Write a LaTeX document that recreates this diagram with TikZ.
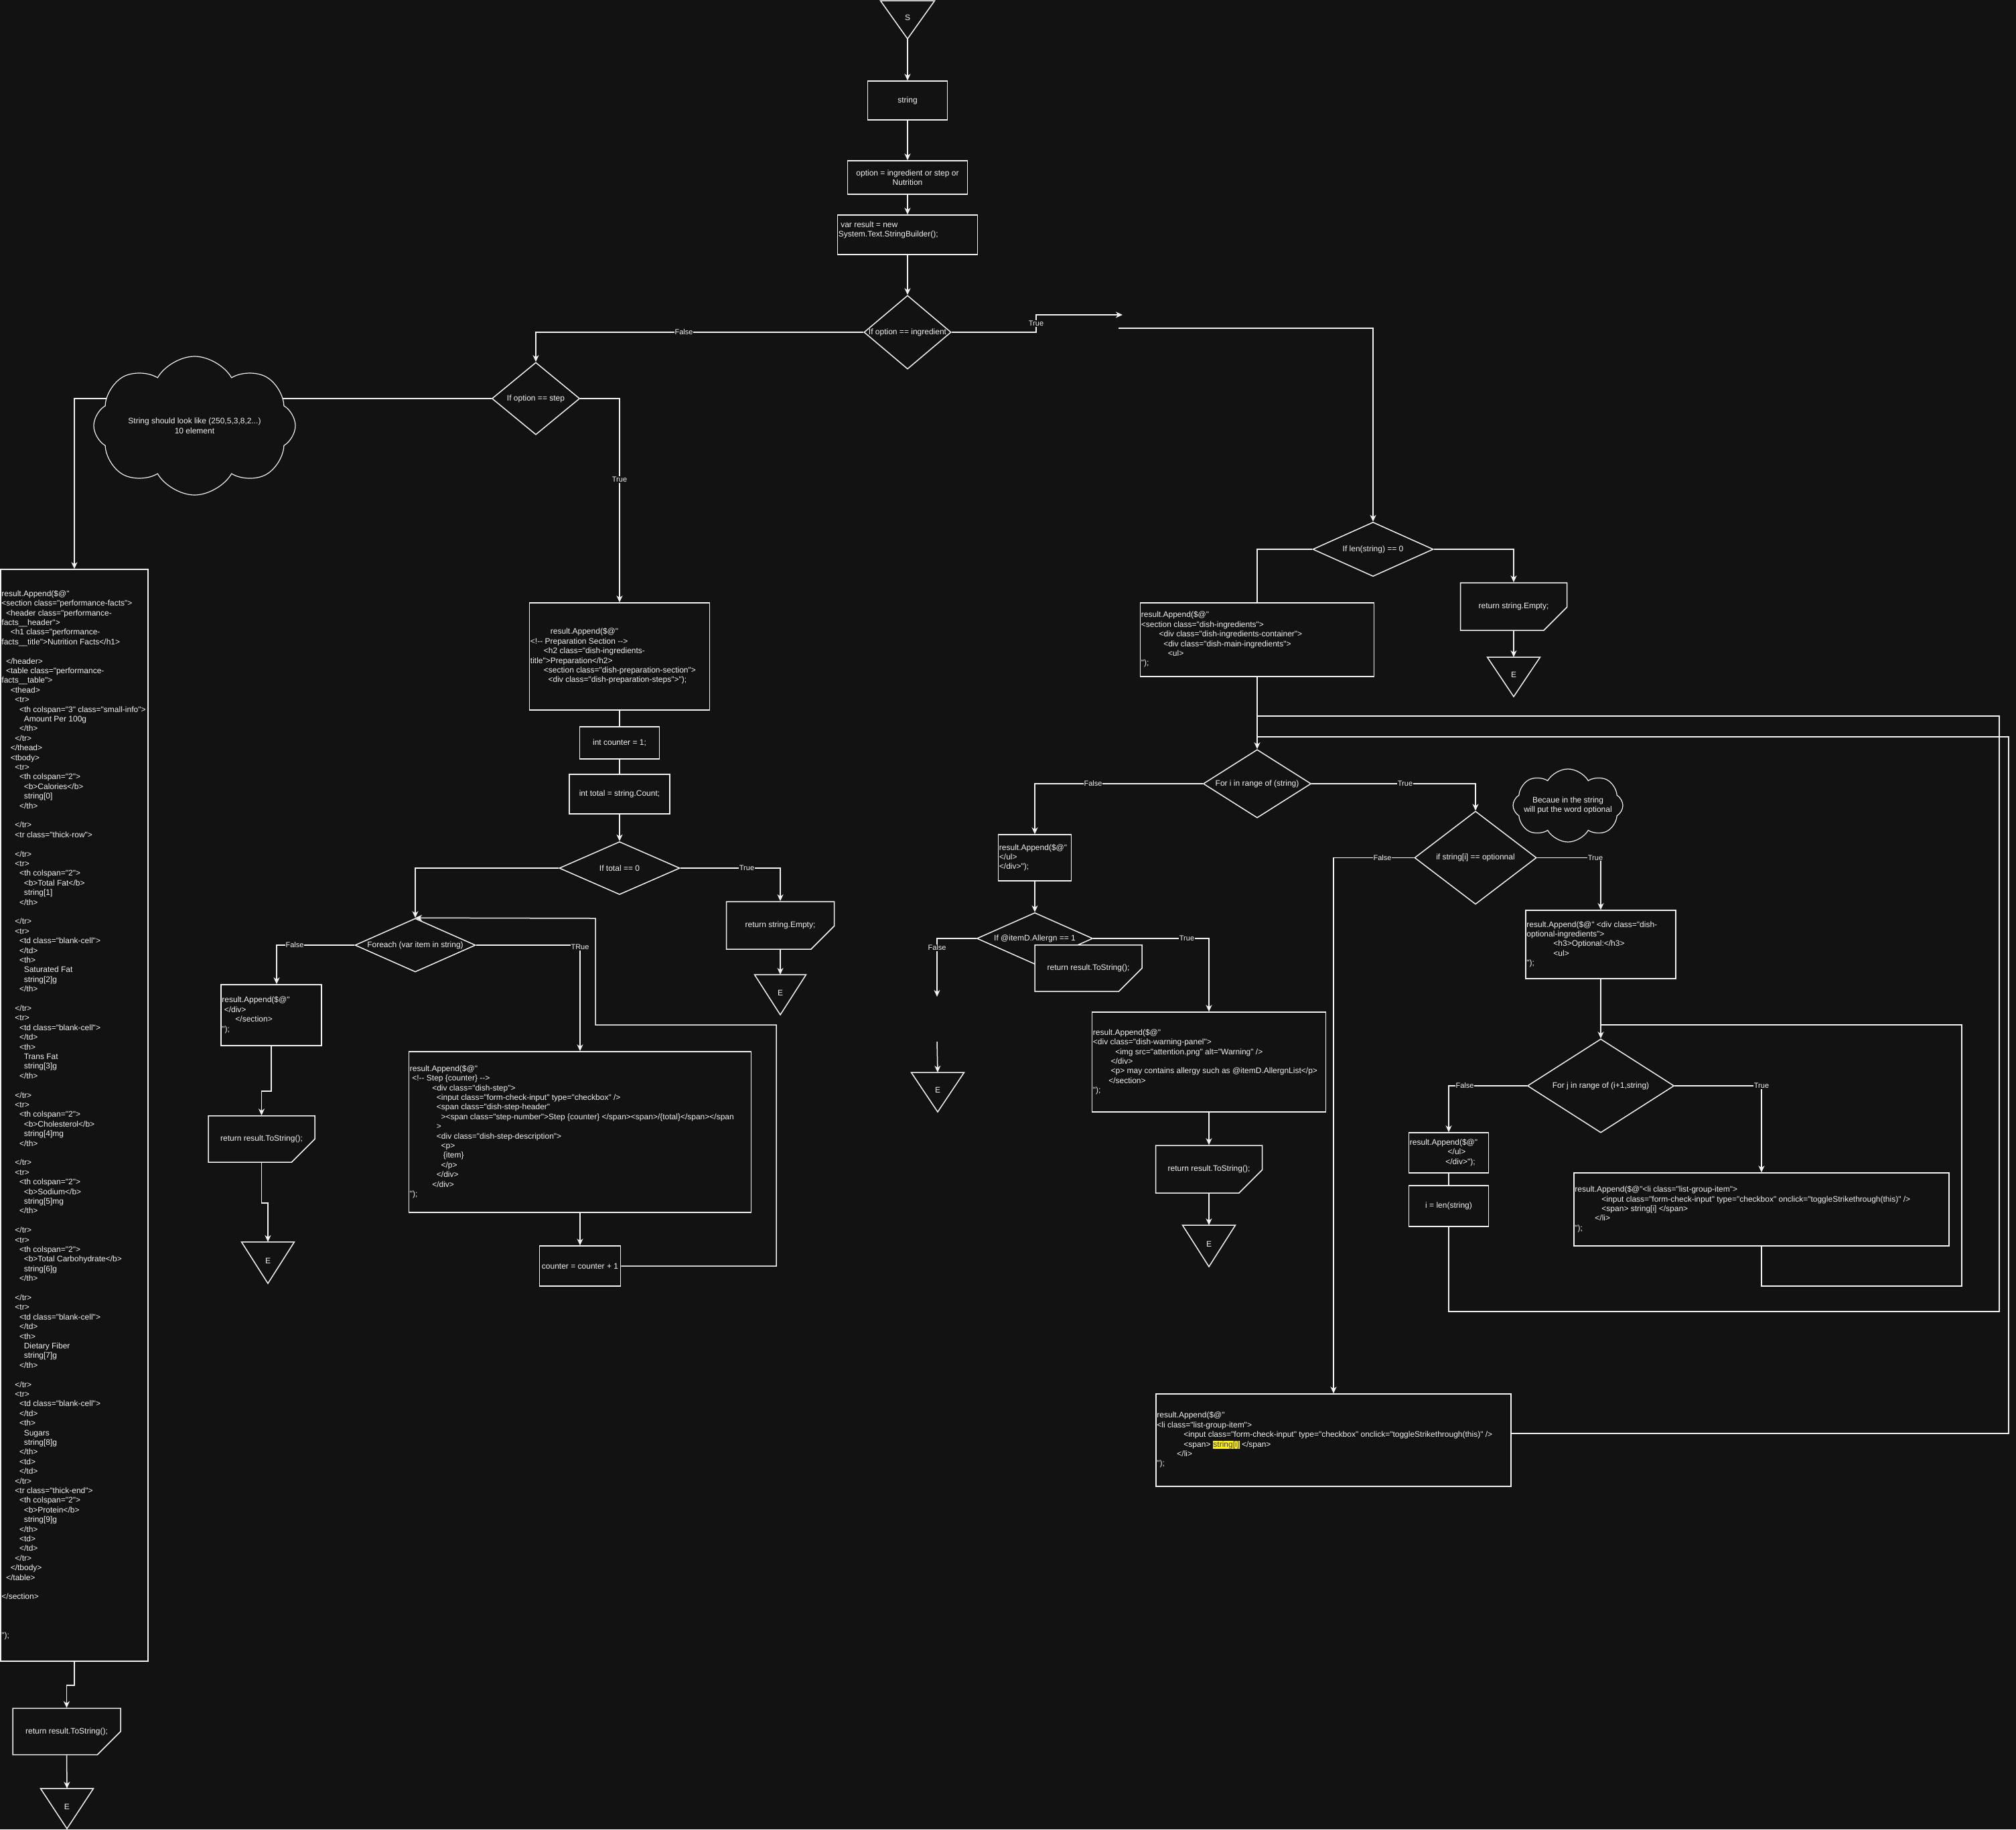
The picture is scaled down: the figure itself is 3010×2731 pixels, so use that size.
\documentclass[tikz,border=0pt]{standalone}
\usepackage{fontspec}
\setmainfont{Liberation Sans}[Ligatures=TeXOff]
\usetikzlibrary{shapes.geometric,shapes.misc,shapes.symbols,arrows.meta}
\definecolor{bg}{HTML}{121212}
\definecolor{fg}{HTML}{F2F2F2}
\newcommand\ind[1]{\hspace*{#1\fontdimen2\font}}
\newcommand\hlt[1]{{\setlength\fboxsep{0.6pt}\colorbox{yellow}{\textcolor{black!75}{#1}}}}
\newcommand\codeblk[1]{\begin{tabular}{@{}l@{}}#1\end{tabular}}
\tikzset{
  ln/.style={draw=fg, line width=1.5pt},
  arr/.style={ln, -{Stealth[length=10pt,width=9pt,inset=3pt]}},
  txt/.style={text=fg, font=\fontsize{12}{14.4}\selectfont},
  code/.style={txt, anchor=west, inner sep=2pt},
  cbox/.style={ln, rectangle, fill=bg, inner sep=0pt, txt, align=center},
  dia/.style={ln, diamond, fill=bg, inner sep=0pt},
  dtxt/.style={txt, align=center, inner sep=0pt},
  card/.style={ln, chamfered rectangle, chamfered rectangle corners=south east, chamfered rectangle xsep=29pt, chamfered rectangle ysep=29pt, fill=bg, inner sep=0pt, txt},
  cloudy/.style={ln, line width=1.2pt, cloud, cloud puffs=8, cloud puff arc=120, cloud ignores aspect, fill=bg, inner sep=0pt},
  lbl/.style={fill=bg, text=fg, font=\fontsize{11}{13}\selectfont, inner sep=1pt},
}
\newcommand\mytri[6]{%
  \draw[ln, fill=bg] (#2-#4/2,#3) -- (#2+#4/2,#3) -- (#2,#3+#5) -- cycle;
  \coordinate (#1-t) at (#2,#3);
  \coordinate (#1-a) at (#2,#3+#5);
  \node[txt] (#1) at (#2,#3+0.45*#5) {#6};
}
\begin{document}
\begin{tikzpicture}[x=1pt,y=-1pt]
\fill[bg] (0,0) rectangle (3010,2731);
\useasboundingbox (0,0) rectangle (3010,2731);

% ---------- top column ----------
\mytri{s}{1355}{1}{81}{57}{S}
\node[cbox, minimum width=119pt, minimum height=58pt] (str) at (1355,150) {string};
\node[cbox, minimum width=179pt, minimum height=50pt] (opt) at (1355,265) {option = ingredient or step or\\Nutrition};
\node[cbox, minimum width=209pt, minimum height=59pt, label={[code, yshift=7pt]west:{\codeblk{\ind{1}var result = new\\System.Text.StringBuilder();}}}] (var) at (1355,350.5) {};
\node[dia, minimum width=130pt, minimum height=110pt, label={[dtxt]center:{If option == ingredient}}] (d1) at (1355,496) {};
\node[dia, minimum width=131pt, minimum height=108pt, label={[dtxt]center:{If option == step}}] (d2) at (800,595) {};

% ---------- nutrition column ----------
\node[cbox, minimum width=220pt, minimum height=1630pt, label={[code]west:{\codeblk{%
result.Append(\$@"\\
<section class="performance-facts">\\
\ind{2}<header class="performance-\\
facts\_\_header">\\
\ind{4}<h1 class="performance-\\
facts\_\_title">Nutrition Facts</h1>\\
\\
\ind{2}</header>\\
\ind{2}<table class="performance-\\
facts\_\_table">\\
\ind{4}<thead>\\
\ind{6}<tr>\\
\ind{8}<th colspan="3" class="small-info">\\
\ind{10}Amount Per 100g\\
\ind{8}</th>\\
\ind{6}</tr>\\
\ind{4}</thead>\\
\ind{4}<tbody>\\
\ind{6}<tr>\\
\ind{8}<th colspan="2">\\
\ind{10}<b>Calories</b>\\
\ind{10}string[0]\\
\ind{8}</th>\\
\\
\ind{6}</tr>\\
\ind{6}<tr class="thick-row">\\
\\
\ind{6}</tr>\\
\ind{6}<tr>\\
\ind{8}<th colspan="2">\\
\ind{10}<b>Total Fat</b>\\
\ind{10}string[1]\\
\ind{8}</th>\\
\\
\ind{6}</tr>\\
\ind{6}<tr>\\
\ind{8}<td class="blank-cell">\\
\ind{8}</td>\\
\ind{8}<th>\\
\ind{10}Saturated Fat\\
\ind{10}string[2]g\\
\ind{8}</th>\\
\\
\ind{6}</tr>\\
\ind{6}<tr>\\
\ind{8}<td class="blank-cell">\\
\ind{8}</td>\\
\ind{8}<th>\\
\ind{10}Trans Fat\\
\ind{10}string[3]g\\
\ind{8}</th>\\
\\
\ind{6}</tr>\\
\ind{6}<tr>\\
\ind{8}<th colspan="2">\\
\ind{10}<b>Cholesterol</b>\\
\ind{10}string[4]mg\\
\ind{8}</th>\\
\\
\ind{6}</tr>\\
\ind{6}<tr>\\
\ind{8}<th colspan="2">\\
\ind{10}<b>Sodium</b>\\
\ind{10}string[5]mg\\
\ind{8}</th>\\
\\
\ind{6}</tr>\\
\ind{6}<tr>\\
\ind{8}<th colspan="2">\\
\ind{10}<b>Total Carbohydrate</b>\\
\ind{10}string[6]g\\
\ind{8}</th>\\
\\
\ind{6}</tr>\\
\ind{6}<tr>\\
\ind{8}<td class="blank-cell">\\
\ind{8}</td>\\
\ind{8}<th>\\
\ind{10}Dietary Fiber\\
\ind{10}string[7]g\\
\ind{8}</th>\\
\\
\ind{6}</tr>\\
\ind{6}<tr>\\
\ind{8}<td class="blank-cell">\\
\ind{8}</td>\\
\ind{8}<th>\\
\ind{10}Sugars\\
\ind{10}string[8]g\\
\ind{8}</th>\\
\ind{8}<td>\\
\ind{8}</td>\\
\ind{6}</tr>\\
\ind{6}<tr class="thick-end">\\
\ind{8}<th colspan="2">\\
\ind{10}<b>Protein</b>\\
\ind{10}string[9]g\\
\ind{8}</th>\\
\ind{8}<td>\\
\ind{8}</td>\\
\ind{6}</tr>\\
\ind{4}</tbody>\\
\ind{2}</table>\\
\\
</section>\\
\\
\\
\\
");}}}] (nut) at (111,1665) {};
\node[card, minimum width=161pt, minimum height=68pt] (r1) at (99.5,2585) {return result.ToString();};
\mytri{e1}{100}{2670}{79}{60}{E}

% ---------- preparation column ----------
\node[cbox, minimum width=269pt, minimum height=160pt, label={[code]west:{\codeblk{%
\ind{9}result.Append(\$@"\\
<!-- Preparation Section -->\\
\ind{6}<h2 class="dish-ingredients-\\
title">Preparation</h2>\\
\ind{6}<section class="dish-preparation-section">\\
\ind{8}<div class="dish-preparation-steps">");}}}] (prep) at (925,980) {};
\node[cbox, minimum width=119pt, minimum height=48pt] (cnt1) at (925,1109) {int counter = 1;};
\node[cbox, minimum width=150pt, minimum height=59pt] (tot) at (925,1185.5) {int total = string.Count;};
\node[dia, minimum width=180pt, minimum height=79pt, label={[dtxt]center:{If total == 0}}] (d3) at (925,1296) {};
\node[card, minimum width=161pt, minimum height=71pt] (r2) at (1165,1381.5) {return string.Empty;};
\mytri{e2}{1165}{1455}{77}{60}{E}
\node[dia, minimum width=180pt, minimum height=80pt, label={[dtxt]center:{Foreach (var item in string)}}] (d4) at (620,1411) {};
\node[cbox, minimum width=150pt, minimum height=91pt, label={[code]west:{\codeblk{%
result.Append(\$@"\\
\ind{1}</div>\\
\ind{6}</section>\\
");}}}] (app1) at (405,1515.5) {};
\node[card, minimum width=159pt, minimum height=69pt] (r3) at (390.5,1700.5) {return result.ToString();};
\mytri{e3}{400}{1854}{79}{62}{E}
\node[cbox, minimum width=511pt, minimum height=240pt, label={[code]west:{\codeblk{%
result.Append(\$@"\\
\ind{1}<!-- Step \{counter\} -->\\
\ind{10}<div class="dish-step">\\
\ind{12}<input class="form-check-input" type="checkbox" />\\
\ind{12}<span class="dish-step-header"\\
\ind{14}><span class="step-number">Step \{counter\} </span><span>/\{total\}</span></span\\
\ind{12}>\\
\ind{12}<div class="dish-step-description">\\
\ind{14}<p>\\
\ind{15}\{item\}\\
\ind{14}</p>\\
\ind{12}</div>\\
\ind{10}</div>\\
");}}}] (stepb) at (866,1690) {};
\node[cbox, minimum width=121pt, minimum height=60pt] (cnt2) at (866,1890) {counter = counter + 1};

% ---------- ingredient column ----------
\node[dia, minimum width=180pt, minimum height=81pt, label={[dtxt]center:{If len(string) == 0}}] (d5) at (2050,820) {};
\node[card, minimum width=159pt, minimum height=71pt] (r4) at (2260,905.5) {return string.Empty;};
\mytri{e4}{2260}{981}{79}{59}{E}
\node[cbox, minimum width=349pt, minimum height=110pt, label={[code]west:{\codeblk{%
result.Append(\$@"\\
<section class="dish-ingredients">\\
\ind{8}<div class="dish-ingredients-container">\\
\ind{10}<div class="dish-main-ingredients">\\
\ind{12}<ul>\\
");}}}] (ingr) at (1877,955) {};
\node[dia, minimum width=161pt, minimum height=102pt, label={[dtxt]center:{For i in range of (string)}}] (d6) at (1877,1170) {};
\node[cbox, minimum width=109pt, minimum height=69pt, label={[code]west:{\codeblk{%
result.Append(\$@"\\
</ul>\\
</div>");}}}] (ul1) at (1545,1280.5) {};
\node[dia, minimum width=173pt, minimum height=77pt, label={[dtxt]center:{If @itemD.Allergn == 1}}] (d7) at (1545,1401) {};
\coordinate (a1) at (1399,1488);
\coordinate (a2) at (1399,1555);
\mytri{e5}{1400}{1601}{79}{59}{E}
\node[cbox, minimum width=349pt, minimum height=149pt, label={[code]west:{\codeblk{%
result.Append(\$@"\\
<div class="dish-warning-panel">\\
\ind{10}<img src="attention.png" alt="Warning" />\\
\ind{8}</div>\\
\ind{8}<p> may contains allergy such as @itemD.AllergnList</p>\\
\ind{7}</section>\\
");}}}] (warn) at (1805,1585.5) {};
\node[card, minimum width=159pt, minimum height=71pt] (r6) at (1805,1745.5) {return result.ToString();};
\mytri{e6}{1805}{1829}{79}{62}{E}
\node[dia, minimum width=182pt, minimum height=139pt, label={[dtxt]center:{if string[i] == optionnal}}] (d8) at (2203,1280.5) {};
\node[cbox, minimum width=224pt, minimum height=102pt, label={[code]west:{\codeblk{%
result.Append(\$@" <div class="dish-\\
optional-ingredients">\\
\ind{12}<h3>Optional:</h3>\\
\ind{12}<ul>\\
");}}}] (optb) at (2390,1410) {};
\node[dia, minimum width=219pt, minimum height=140pt, label={[dtxt]center:{For j in range of (i+1,string)}}] (d9) at (2390,1621) {};
\node[cbox, minimum width=560pt, minimum height=109pt, label={[code]west:{\codeblk{%
result.Append(\$@"<li class="list-group-item">\\
\ind{12}<input class="form-check-input" type="checkbox" onclick="toggleStrikethrough(this)" />\\
\ind{12}<span> string[i] </span>\\
\ind{9}</li>\\
");}}}] (li) at (2630,1805.5) {};
\node[cbox, minimum width=119pt, minimum height=60pt, label={[code]west:{\codeblk{%
result.Append(\$@"\\
\ind{17}</ul>\\
\ind{16}</div>");}}}] (ul2) at (2163,1721) {};
\node[cbox, minimum width=119pt, minimum height=61pt] (ilen) at (2163,1800.5) {i = len(string)};
\node[cbox, minimum width=530pt, minimum height=138pt, label={[code]west:{\codeblk{%
result.Append(\$@"\\
<li class="list-group-item">\\
\ind{12}<input class="form-check-input" type="checkbox" onclick="toggleStrikethrough(this)" />\\
\ind{12}<span> \hlt{string[i]} </span>\\
\ind{9}</li>\\
");}}}] (bot) at (1991,2150) {};

\coordinate (tA) at (1676,470);
\coordinate (tB) at (1670,490);
\coordinate (jj) at (2390,1530);
\coordinate (ji1) at (1877,1069);
\coordinate (ji2) at (1877,1100);

% ---------- connectors ----------
\draw[arr] (s-a) -- (str.north);
\draw[arr] (str.south) -- (opt.north);
\draw[arr] (opt.south) -- (var.north);
\draw[arr] (var.south) -- (d1.north);
\draw[arr] (d1.east) -- (1547,496) -- (1547,470) -- (tA);
\draw[arr] (tB) -| (d5.north);
\draw[arr] (d1.west) -| (d2.north);
\draw[arr] (d2.west) -| (nut.north);
\draw[arr] (d2.east) -| (prep.north);
\draw[ln] (prep.south) -- (cnt1.north);
\draw[ln] (cnt1.south) -- (tot.north);
\draw[arr] (tot.south) -- (d3.north);
\draw[arr] (d3.east) -| (r2.north);
\draw[arr] (r2.south) -- (e2-t);
\draw[arr] (d3.west) -| (d4.north);
\draw[arr] (d4.west) -| ([xshift=8pt]app1.north);
\draw[arr] (app1.south) -- ++(0,67) -| (r3.north);
\draw[arr] (r3.south) -- ++(0,60) -| (e3-t);
\draw[arr] (d4.east) -| (stepb.north);
\draw[arr] (stepb.south) -- (cnt2.north);
\draw[arr] (cnt2.east) -- (1159,1890) -- (1159,1530) -- (889,1530) -- (889,1371) -- (d4.north);
\draw[arr] (nut.south) -- ++(0,35) -| (r1.north);
\draw[arr] (r1.south) -- (e1-t);

\draw[arr] (d5.east) -| (r4.north);
\draw[arr] (r4.south) -- (e4-t);
\draw[ln] (d5.west) -| (ingr.north);
\draw[arr] (ingr.south) -- (d6.north);
\draw[arr] (d6.west) -| (ul1.north);
\draw[arr] (ul1.south) -- (d7.north);
\draw[arr] (d7.west) -| (a1);
\draw[arr] (a2) -- (e5-t);
\draw[arr] (d7.east) -| (warn.north);
\draw[arr] (warn.south) -- (r6.north);
\draw[arr] (r6.south) -- (e6-t);
\draw[arr] (d6.east) -| (d8.north);
\draw[arr] (d8.west) -| (bot.north);
\draw[arr] (d8.east) -| (optb.north);
\draw[arr] (optb.south) -- (d9.north);
\draw[arr] (d9.east) -| (li.north);
\draw[arr] (d9.west) -| (ul2.north);
\draw[ln] (ul2.south) -- (ilen.north);
\draw[ln] (li.south) -- (2630,1920) -- (2929,1920) -- (2929,1530) -- (jj);
\draw[ln] (ilen.south) -- (2163,1958) -- (2985,1958) -- (2985,1069) -- (ji1);
\draw[ln] ([yshift=10pt]bot.east) -- (2999,2140) -- (2999,1100) -- (ji2);

% card overlapping the allergen diamond
\node[card, minimum width=160pt, minimum height=69pt] (r5) at (1625,1445.5) {return result.ToString();};

% clouds
\node[cloudy, minimum width=301pt, minimum height=207pt, label={[dtxt]center:{String should look like (250,5,3,8,2...)\\10 element}}] (c1) at (290.5,635.5) {};
\node[cloudy, minimum width=164pt, minimum height=109pt, label={[dtxt]center:{Becaue in the string\\will put the word optional}}] (c2) at (2341,1202.5) {};

% edge labels
\node[lbl] (lt1) at (1547,483) {True};
\node[lbl] (lf1) at (1021,496) {False};
\node[lbl] (lt2) at (925,716) {True};
\node[lbl] (lt3) at (1115,1296) {True};
\node[lbl] (lf2) at (440,1411) {False};
\node[lbl] (lt4) at (866,1414) {TRue};
\node[lbl] (lf3) at (1632,1170) {False};
\node[lbl] (lf4) at (1399,1415) {False};
\node[lbl] (lt5) at (1772,1401) {True};
\node[lbl] (lt6) at (2098,1170) {True};
\node[lbl] (lf5) at (2064,1280.5) {False};
\node[lbl] (lt7) at (2382,1280.5) {True};
\node[lbl] (lt8) at (2630,1621) {True};
\node[lbl] (lf6) at (2187,1621) {False};
\end{tikzpicture}
\end{document}
